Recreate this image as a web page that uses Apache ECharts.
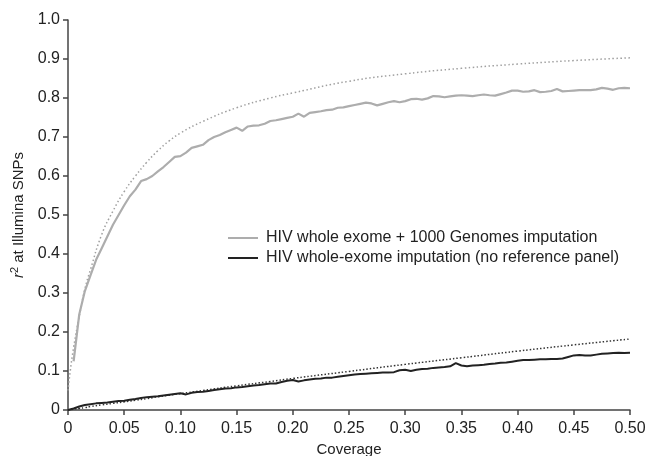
<!DOCTYPE html>
<html>
<head>
<meta charset="utf-8">
<script src="https://cdn.jsdelivr.net/npm/echarts@6/dist/echarts.min.js"></script>
<style>
  html, body { margin: 0; padding: 0; background: #fff; }
  #chart { width: 647px; height: 456px; }
</style>
</head>
<body>
<div id="chart"></div>
<script>
// coverage grid of the two jagged (solid) curves
const coverage = [
  0, 0.005, 0.01, 0.015, 0.02, 0.025, 0.03, 0.035, 0.04, 0.045,
  0.05, 0.055, 0.06, 0.065, 0.07, 0.075, 0.08, 0.085, 0.09, 0.095,
  0.10, 0.105, 0.11, 0.115, 0.12, 0.125, 0.13, 0.135, 0.14, 0.145,
  0.15, 0.155, 0.16, 0.165, 0.17, 0.175, 0.18, 0.185, 0.19, 0.195,
  0.20, 0.205, 0.21, 0.215, 0.22, 0.225, 0.23, 0.235, 0.24, 0.245,
  0.25, 0.255, 0.26, 0.265, 0.27, 0.275, 0.28, 0.285, 0.29, 0.295,
  0.30, 0.305, 0.31, 0.315, 0.32, 0.325, 0.33, 0.335, 0.34, 0.345,
  0.35, 0.355, 0.36, 0.365, 0.37, 0.375, 0.38, 0.385, 0.39, 0.395,
  0.40, 0.405, 0.41, 0.415, 0.42, 0.425, 0.43, 0.435, 0.44, 0.445,
  0.45, 0.455, 0.46, 0.465, 0.47, 0.475, 0.48, 0.485, 0.49, 0.495,
  0.50
];

// HIV whole exome + 1000 Genomes imputation
const withRefPanel = [
  null, 0.125, 0.245, 0.305, 0.345, 0.385, 0.415, 0.445, 0.475, 0.50,
  0.525, 0.548, 0.565, 0.587, 0.592, 0.600, 0.612, 0.623, 0.636, 0.649,
  0.651, 0.660, 0.672, 0.676, 0.680, 0.692, 0.700, 0.705, 0.712, 0.718,
  0.724, 0.716, 0.727, 0.729, 0.730, 0.734, 0.741, 0.743, 0.746, 0.749,
  0.752, 0.760, 0.752, 0.762, 0.764, 0.766, 0.769, 0.770, 0.775, 0.776,
  0.779, 0.782, 0.785, 0.788, 0.786, 0.781, 0.785, 0.789, 0.792, 0.789,
  0.792, 0.797, 0.798, 0.796, 0.799, 0.805, 0.804, 0.802, 0.804, 0.806,
  0.807, 0.806, 0.805, 0.807, 0.809, 0.807, 0.806, 0.810, 0.814, 0.819,
  0.819, 0.816, 0.817, 0.820, 0.815, 0.816, 0.818, 0.823, 0.817, 0.818,
  0.819, 0.820, 0.820, 0.820, 0.822, 0.826, 0.824, 0.821, 0.825, 0.826,
  0.825
];

// HIV whole-exome imputation (no reference panel)
const noRefPanel = [
  0, 0.004, 0.009, 0.013, 0.015, 0.017, 0.018, 0.019, 0.021, 0.023,
  0.024, 0.026, 0.028, 0.031, 0.033, 0.034, 0.035, 0.037, 0.039, 0.041,
  0.043, 0.040, 0.044, 0.046, 0.047, 0.049, 0.051, 0.053, 0.055, 0.056,
  0.058, 0.059, 0.061, 0.063, 0.064, 0.066, 0.068, 0.068, 0.072, 0.075,
  0.077, 0.073, 0.076, 0.078, 0.080, 0.081, 0.083, 0.083, 0.085, 0.087,
  0.089, 0.091, 0.092, 0.093, 0.094, 0.095, 0.096, 0.096, 0.097, 0.102,
  0.103, 0.100, 0.103, 0.105, 0.106, 0.108, 0.109, 0.110, 0.112, 0.120,
  0.114, 0.112, 0.114, 0.115, 0.116, 0.118, 0.119, 0.121, 0.122, 0.124,
  0.126, 0.128, 0.128, 0.129, 0.130, 0.130, 0.131, 0.131, 0.132, 0.136,
  0.140, 0.141, 0.140, 0.140, 0.142, 0.144, 0.145, 0.146, 0.147, 0.146,
  0.147
];

// coverage grid of the two smooth (dotted) curves
const coverageFit = [0, 0.002, 0.005, 0.01, 0.015, 0.02, 0.03, 0.04, 0.05, 0.06, 0.07, 0.08,
  0.09, 0.10, 0.12, 0.15, 0.18, 0.20, 0.25, 0.30, 0.35, 0.40, 0.45, 0.50];
const withRefFit = [0.05, 0.10, 0.16, 0.24, 0.31, 0.36, 0.45, 0.51, 0.56, 0.60, 0.635, 0.665,
  0.69, 0.71, 0.74, 0.775, 0.80, 0.813, 0.843, 0.862, 0.876, 0.887, 0.896, 0.903];
const noRefFit = [0, 0.001, 0.002, 0.004, 0.006, 0.009, 0.013, 0.017, 0.021, 0.025, 0.029, 0.034,
  0.038, 0.042, 0.050, 0.062, 0.073, 0.081, 0.099, 0.117, 0.134, 0.151, 0.167, 0.182];

const seriesNames = [
  'HIV whole exome + 1000 Genomes imputation',
  'HIV whole-exome imputation (no reference panel)'
];

function pairs(xs, ys) {
  return xs.map((x, i) => [x, ys[i]]);
}

const font = "'Liberation Sans', Arial, sans-serif";
const chart = echarts.init(document.getElementById('chart'));

chart.setOption({
  animation: false,
  textStyle: { fontFamily: font },
  grid: { left: 68, right: 17, top: 20, bottom: 46, outerBoundsMode: 'none', containLabel: false },
  legend: {
    data: seriesNames,
    orient: 'vertical',
    left: 228,
    top: 230,
    padding: 0,
    icon: 'rect',
    itemWidth: 30,
    itemHeight: 2,
    itemGap: 4,
    textStyle: { fontSize: 16, color: '#222', fontFamily: font, padding: [0, 0, 0, 3] }
  },
  xAxis: {
    type: 'value',
    min: 0,
    max: 0.5,
    interval: 0.05,
    name: 'Coverage',
    nameLocation: 'middle',
    nameGap: 29,
    nameTextStyle: { fontSize: 15, color: '#222', verticalAlign: 'top' },
    axisLine: { lineStyle: { color: '#444', width: 1.5 } },
    axisTick: { length: 5, lineStyle: { color: '#444', width: 1.5 } },
    axisLabel: {
      fontSize: 16,
      color: '#222',
      margin: 11,
      formatter: v => v === 0 ? '0' : v.toFixed(2)
    },
    splitLine: { show: false }
  },
  yAxis: {
    type: 'value',
    min: 0,
    max: 1,
    interval: 0.1,
    name: '{i|r}{s|2} at Illumina SNPs',
    nameLocation: 'middle',
    nameGap: 40,
    nameTextStyle: {
      fontSize: 15,
      color: '#222',
      rich: {
        i: { fontSize: 15, fontStyle: 'italic', color: '#222' },
        s: { fontSize: 11, color: '#222', verticalAlign: 'bottom', padding: [0, 0, 8, 0] }
      }
    },
    axisLine: { show: true, lineStyle: { color: '#444', width: 1.5 } },
    axisTick: { show: true, length: 5, lineStyle: { color: '#444', width: 1.5 } },
    axisLabel: {
      fontSize: 16,
      color: '#222',
      margin: 8,
      formatter: v => v === 0 ? '0' : v.toFixed(1)
    },
    splitLine: { show: false }
  },
  series: [
    {
      name: 'fit-ref',
      type: 'line',
      data: pairs(coverageFit, withRefFit),
      smooth: true,
      showSymbol: false,
      color: '#a0a0a0',
      lineStyle: { color: '#a0a0a0', width: 1.5, type: [1.5, 2.5] }
    },
    {
      name: 'fit-noref',
      type: 'line',
      data: pairs(coverageFit, noRefFit),
      smooth: true,
      showSymbol: false,
      color: '#333',
      lineStyle: { color: '#333', width: 1.5, type: [1.5, 2] }
    },
    {
      name: seriesNames[0],
      type: 'line',
      data: pairs(coverage, withRefPanel),
      showSymbol: false,
      color: '#adadad',
      lineStyle: { color: '#adadad', width: 2.2 }
    },
    {
      name: seriesNames[1],
      type: 'line',
      data: pairs(coverage, noRefPanel),
      showSymbol: false,
      color: '#222',
      lineStyle: { color: '#222', width: 2 }
    }
  ]
});
</script>
</body>
</html>
